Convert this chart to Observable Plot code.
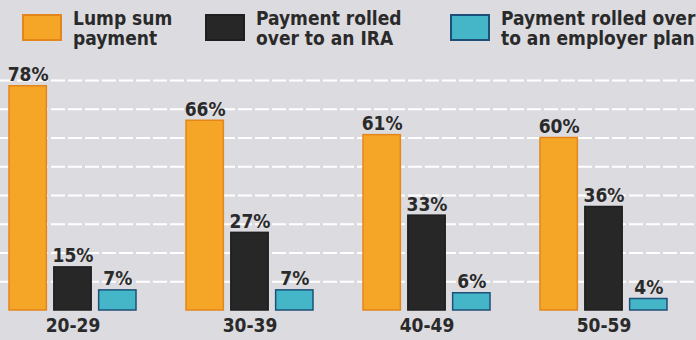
<!DOCTYPE html>
<html>
<head>
<meta charset="utf-8">
<script src="https://cdn.jsdelivr.net/npm/d3@7"></script>
<script src="https://cdn.jsdelivr.net/npm/@observablehq/plot@0.6"></script>
<style>
  html, body { margin: 0; padding: 0; }
  body {
    width: 696px; height: 340px; overflow: hidden;
    background: #dcdbe0;
    font-family: "Liberation Sans Narrow", "DejaVu Sans Condensed", "DejaVu Sans", sans-serif;
    font-stretch: condensed;
    font-weight: bold;
    color: #2a2a2a;
  }
  #legend { position: relative; height: 55px; }
  .item { position: absolute; top: 8px; display: flex; align-items: flex-start; }
  .swatch { width: 40px; height: 27px; margin-top: 6px; box-sizing: border-box; }
  .label { margin-left: 11px; font-size: 19px; line-height: 20px; }
</style>
</head>
<body>
<div id="legend"></div>
<div id="chart"></div>
<script>
// Age groups and the share of workers choosing each option
const ages = ["20-29", "30-39", "40-49", "50-59"];
const series = [
  "Lump sum payment",
  "Payment rolled over to an IRA",
  "Payment rolled over to an employer plan"
];
const legendLines = [
  ["Lump sum", "payment"],
  ["Payment rolled", "over to an IRA"],
  ["Payment rolled over", "to an employer plan"]
];
const lumpSum = [78, 66, 61, 60];
const rolledToIra = [15, 27, 33, 36];
const rolledToEmployer = [7, 7, 6, 4];
const gridTicks = [10, 20, 30, 40, 50, 60, 70, 80];

// Styling per series
const fills = ["#f5a626", "#272727", "#45b6c8"];
const strokes = ["#e3861c", "#1f1f1f", "#1d4f78"];
const legendLeft = [22, 205, 450];

const values = [lumpSum, rolledToIra, rolledToEmployer];

// Legend
const legend = document.getElementById("legend");
series.forEach((s, j) => {
  const item = document.createElement("div");
  item.className = "item";
  item.style.left = legendLeft[j] + "px";
  const sw = document.createElement("div");
  sw.className = "swatch";
  sw.style.background = fills[j];
  sw.style.border = "2px solid " + strokes[j];
  const lab = document.createElement("div");
  lab.className = "label";
  lab.innerHTML = legendLines[j].join("<br>");
  item.append(sw, lab);
  legend.append(item);
});

// Layout of the grouped bars: one band per age group, split into three sub-bands
const width = 696, marginLeft = 8, marginRight = 28, groupPadding = 0.28;
const groupBand = d3.scaleBand().domain(ages)
  .range([marginLeft, width - marginRight]).paddingInner(groupPadding).paddingOuter(0);
const bw = groupBand.bandwidth();
const sub = d3.scaleBand().domain(series).range([0, bw]).paddingInner(0.15).paddingOuter(0);
const sbw = sub.bandwidth();

const font = "'Liberation Sans Narrow', 'DejaVu Sans Condensed', 'DejaVu Sans', sans-serif";

const marks = [
  Plot.ruleY(gridTicks, {
    stroke: "#ffffff",
    strokeWidth: 2,
    strokeDasharray: "14,3",
    insetLeft: -marginLeft,
    insetRight: -marginRight
  })
];
series.forEach((s, j) => {
  const rows = ages.map((age, i) => ({age, value: values[j][i]}));
  const left = sub(s);
  marks.push(
    Plot.barY(rows, {
      x: "age",
      y: "value",
      insetLeft: left,
      insetRight: bw - left - sbw,
      fill: fills[j],
      stroke: strokes[j],
      strokeWidth: 1.5
    }),
    Plot.text(rows, {
      x: "age",
      y: "value",
      text: d => d.value + "%",
      dx: left + sbw / 2 - bw / 2,
      dy: -5,
      lineAnchor: "bottom",
      fontSize: 19,
      fontWeight: "bold",
      fill: "#2a2a2a"
    })
  );
});
marks.push(
  Plot.axisX({
    anchor: "bottom",
    tickSize: 0,
    tickPadding: 8,
    fontSize: 19,
    fontWeight: "bold",
    fill: "#2a2a2a",
    label: null
  })
);

const chart = Plot.plot({
  width,
  height: 285,
  marginLeft,
  marginRight,
  marginTop: 25,
  marginBottom: 30,
  style: {background: "transparent", fontFamily: font, overflow: "visible"},
  x: {domain: ages, paddingInner: groupPadding, paddingOuter: 0, axis: null},
  y: {domain: [0, 80], axis: null},
  marks
});
document.getElementById("chart").append(chart);
</script>
</body>
</html>
